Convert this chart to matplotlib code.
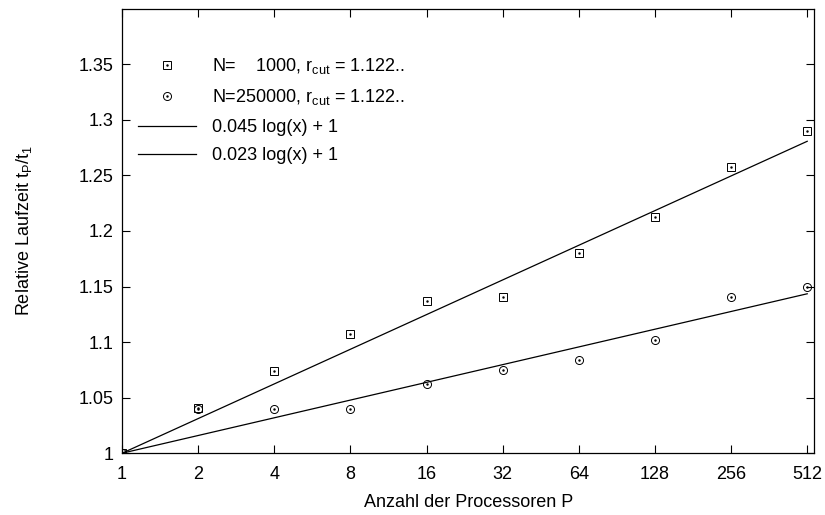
import numpy as np
import matplotlib
matplotlib.use("Agg")
import matplotlib.pyplot as plt

plt.rcParams['font.family'] = ['Liberation Sans', 'DejaVu Sans']
plt.rcParams['mathtext.fontset'] = 'custom'
plt.rcParams['mathtext.rm'] = 'Liberation Sans'
plt.rcParams['mathtext.it'] = 'Liberation Sans'

# Daten
prozessoren = [1, 2, 4, 8, 16, 32, 64, 128, 256, 512]
zeit_n1000 = [1.0, 1.041, 1.074, 1.107, 1.137, 1.141, 1.180, 1.213, 1.258, 1.290]
zeit_n250000 = [1.0, 1.040, 1.040, 1.040, 1.062, 1.075, 1.084, 1.102, 1.141, 1.150]
fit_a = 0.045
fit_b = 0.023
y_ticks = [1, 1.05, 1.1, 1.15, 1.2, 1.25, 1.3, 1.35]
y_tick_labels = ['1', '1.05', '1.1', '1.15', '1.2', '1.25', '1.3', '1.35']

fs = 13
fig = plt.figure(figsize=(8.25, 5.15), dpi=100)
ax = fig.add_axes([0.148, 0.120, 0.839, 0.863])

x = np.array(prozessoren, dtype=float)
ms = 5.8
q1, = ax.plot(x, zeit_n1000, 's', ms=ms, mfc='none', mec='black', mew=0.7, ls='none')
q2, = ax.plot(x, zeit_n1000, '.', ms=1.5, color='black', ls='none')
c1, = ax.plot(x, zeit_n250000, 'o', ms=ms, mfc='none', mec='black', mew=0.7, ls='none')
c2, = ax.plot(x, zeit_n250000, '.', ms=1.5, color='black', ls='none')
l1, = ax.plot(x, fit_a * np.log(x) + 1, color='black', lw=0.9)
l2, = ax.plot(x, fit_b * np.log(x) + 1, color='black', lw=0.9)

ax.set_xscale('log', base=2)
ax.set_xlim(1, 546)
ax.set_ylim(1, 1.4)
ax.set_xticks(prozessoren)
ax.set_xticklabels([str(p) for p in prozessoren])
ax.minorticks_off()
ax.set_yticks(y_ticks)
ax.set_yticklabels(y_tick_labels)
ax.tick_params(direction='in', top=True, right=True, labelsize=fs, length=6, width=0.8)
ax.tick_params(axis='x', pad=9)
ax.tick_params(axis='y', pad=6)
for s in ax.spines.values():
    s.set_linewidth(0.9)

ax.set_xlabel('Anzahl der Processoren P', fontsize=fs, labelpad=8)
ax.set_ylabel(r'Relative Laufzeit t$_\mathrm{P}$/t$_\mathrm{1}$', fontsize=fs, labelpad=32)

ax.legend([(q1, q2), (c1, c2), l1, l2],
          [r'N=    1000, r$_\mathrm{cut}$ = 1.122..',
           r'N=250000, r$_\mathrm{cut}$ = 1.122..',
           '0.045 log(x) + 1', '0.023 log(x) + 1'],
          loc='upper left', bbox_to_anchor=(0.0, 0.93), frameon=False,
          fontsize=fs, handlelength=3.2, handletextpad=0.9, labelspacing=0.63)

fig.savefig('out.png', dpi=100)
